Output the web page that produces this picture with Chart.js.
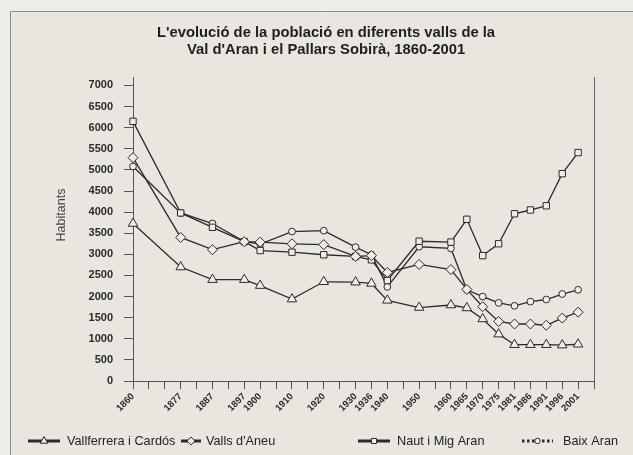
<!DOCTYPE html>
<html>
<head>
<meta charset="utf-8">
<script src="https://cdn.jsdelivr.net/npm/chart.js@4.4.1/dist/chart.umd.min.js"></script>
<style>
  html, body { margin: 0; padding: 0; background: #efede9; }
  canvas { display: block; }
</style>
</head>
<body>
<canvas id="grafic" width="633" height="455"></canvas>
<script>
// Etiquetes de l'eix X (les caselles buides són marques sense any)
const tickLabels = ['1860', '', '', '1877', '', '1887', '', '1897', '1900', '', '1910', '', '1920', '', '1930', '1936', '1940', '', '1950', '', '1960', '1965', '1970', '1975', '1981', '1986', '1991', '1996', '2001', ''];
// Anys amb dades
const years = ['1860', '1877', '1887', '1897', '1900', '1910', '1920', '1930', '1936', '1940', '1950', '1960', '1965', '1970', '1975', '1981', '1986', '1991', '1996', '2001'];
// Habitants per vall
const vallferrera = [3730, 2700, 2400, 2400, 2260, 1940, 2350, 2340, 2310, 1910, 1740, 1800, 1730, 1470, 1110, 860, 860, 860, 850, 870];
const vallsAneu = [5290, 3400, 3110, 3300, 3290, 3250, 3230, 2950, 2970, 2570, 2760, 2640, 2170, 1760, 1410, 1350, 1350, 1320, 1490, 1630];
const nautMigAran = [6150, 3980, 3640, 3300, 3090, 3050, 2990, 2950, 2870, 2380, 3310, 3290, 3830, 2970, 3250, 3960, 4050, 4150, 4910, 5410];
const baixAran = [5080, 3980, 3730, 3300, 3240, 3540, 3560, 3170, 2990, 2230, 3180, 3140, 2160, 2000, 1850, 1780, 1880, 1930, 2060, 2160];
const yTicks = [0, 500, 1000, 1500, 2000, 2500, 3000, 3500, 4000, 4500, 5000, 5500, 6000, 6500, 7000];

const titol = ["L'evolució de la població en diferents valls de la", "Val d'Aran i el Pallars Sobirà, 1860-2001"];
const titolY = 'Habitants';

const tinta = '#2b2b2b';
const farciment = '#efede8';
const lletra = '"Liberation Sans", Arial, sans-serif';

// Crear una serie amb els seus marcadors
const serie = (label, values, pointStyle, radius, dotted) => ({
    label,
    data: years.map((y, i) => ({ x: y, y: values[i] })),
    borderColor: tinta,
    borderWidth: 1.3,
    pointStyle,
    pointRadius: radius,
    pointHoverRadius: radius,
    pointBackgroundColor: farciment,
    pointBorderColor: tinta,
    pointBorderWidth: 1,
    tension: 0,
    dotted
});

// Fons, marc, títols, vora dreta i llegenda
const decoracio = {
    id: 'decoracio',
    beforeDraw(chart) {
        const ctx = chart.ctx;
        ctx.save();
        ctx.fillStyle = '#efede9';
        ctx.fillRect(0, 0, chart.width, chart.height);
        ctx.fillStyle = '#e9e6df';
        ctx.fillRect(10, 11, chart.width - 10, chart.height - 11);
        ctx.strokeStyle = '#8c8c8c';
        ctx.lineWidth = 1;
        ctx.beginPath();
        ctx.moveTo(10.5, chart.height);
        ctx.lineTo(10.5, 11.5);
        ctx.lineTo(chart.width, 11.5);
        ctx.stroke();
        ctx.restore();
    },
    afterDraw(chart) {
        const { ctx, chartArea } = chart;
        ctx.save();
        // títol
        ctx.fillStyle = '#1e1e1e';
        ctx.font = 'bold 14.8px ' + lletra;
        ctx.textAlign = 'center';
        ctx.textBaseline = 'middle';
        titol.forEach((linia, i) => ctx.fillText(linia, 326, 33 + i * 17));
        // vora dreta
        const xr = Math.round(chartArea.right) + 0.5;
        ctx.strokeStyle = '#666';
        ctx.lineWidth = 1;
        ctx.beginPath();
        ctx.moveTo(xr, chartArea.top);
        ctx.lineTo(xr, chartArea.bottom);
        ctx.stroke();
        // títol de l'eix Y
        ctx.save();
        ctx.translate(62, 215);
        ctx.rotate(-Math.PI / 2);
        ctx.font = '12.5px ' + lletra;
        ctx.fillStyle = '#444';
        ctx.textAlign = 'center';
        ctx.textBaseline = 'middle';
        ctx.fillText(titolY, 0, 0);
        ctx.restore();
        // llegenda
        const posicions = [[28, 60, 67], [181, 201, 206], [358, 390, 397], [522, 553, 563]];
        const ly = 441;
        chart.data.datasets.forEach((ds, i) => {
            const [x0, x1, xt] = posicions[i];
            ctx.strokeStyle = tinta;
            ctx.lineWidth = 3;
            ctx.setLineDash(ds.dotted ? [2.5, 2.5] : []);
            ctx.beginPath();
            ctx.moveTo(x0, ly);
            ctx.lineTo(x1, ly);
            ctx.stroke();
            ctx.setLineDash([]);
            ctx.fillStyle = farciment;
            ctx.lineWidth = 1;
            Chart.helpers.drawPoint(ctx, {
                pointStyle: ds.pointStyle,
                radius: ds.pointRadius * 0.8,
                rotation: 0,
                borderWidth: 1
            }, (x0 + x1) / 2, ly);
            ctx.fillStyle = '#222';
            ctx.font = '12.7px ' + lletra;
            ctx.textAlign = 'left';
            ctx.textBaseline = 'middle';
            ctx.fillText(ds.label, xt, ly);
        });
        ctx.restore();
    }
};

new Chart(document.getElementById('grafic'), {
    type: 'line',
    data: {
        labels: tickLabels,
        datasets: [
            serie('Vallferrera i Cardós', vallferrera, 'triangle', 5.5, false),
            serie("Valls d'Aneu", vallsAneu, 'rectRot', 5, false),
            serie('Naut i Mig Aran', nautMigAran, 'rect', 4.5, false),
            serie('Baix Aran', baixAran, 'circle', 3.4, true)
        ]
    },
    options: {
        responsive: false,
        animation: false,
        devicePixelRatio: 1,
        layout: { padding: { left: 0, right: 39, top: 77, bottom: 0 } },
        plugins: {
            legend: { display: false },
            tooltip: { enabled: false },
            title: { display: false }
        },
        scales: {
            x: {
                type: 'category',
                offset: false,
                grid: { drawOnChartArea: false, drawTicks: true, tickLength: 8, color: '#555' },
                border: { display: true, color: '#555', width: 1 },
                ticks: {
                    autoSkip: false,
                    minRotation: 45,
                    maxRotation: 45,
                    padding: 2,
                    color: '#2a2a2a',
                    font: { family: lletra, size: 9.5, weight: 'bold' }
                },
                afterFit(scale) { scale.height = 74; }
            },
            y: {
                min: 0,
                max: 7200,
                afterBuildTicks(scale) { scale.ticks = yTicks.map(v => ({ value: v })); },
                grid: { drawOnChartArea: false, drawTicks: true, tickLength: 9, color: '#555' },
                border: { display: true, color: '#555', width: 1 },
                ticks: {
                    padding: 11,
                    color: '#2a2a2a',
                    font: { family: lletra, size: 11, weight: 'bold' },
                    callback: (v) => String(v)
                },
                afterFit(scale) { scale.width = 133; }
            }
        }
    },
    plugins: [decoracio]
});
</script>
</body>
</html>
